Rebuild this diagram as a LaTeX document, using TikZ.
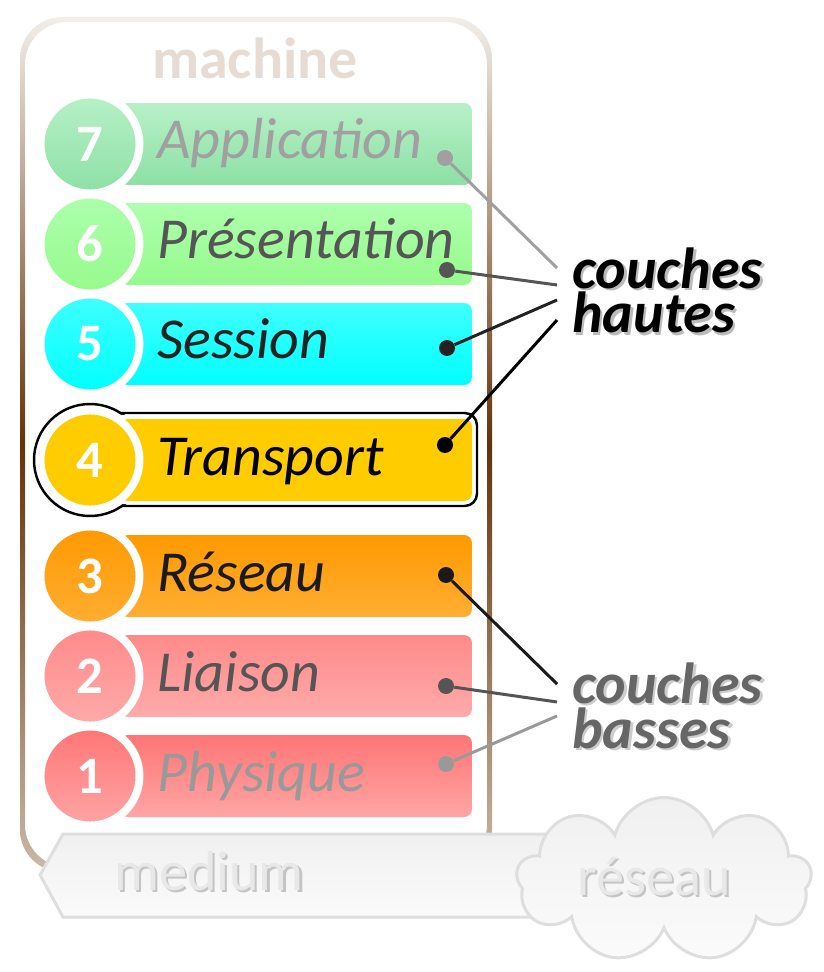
\documentclass[tikz,border=0pt]{standalone}
\usepackage{fontspec}
\setmainfont{Carlito}
\usepackage{tikz}
\usetikzlibrary{shapes.symbols, positioning}
\definecolor{frameT}{HTML}{F2EEEA}
\definecolor{frameM}{HTML}{633308}
\definecolor{frameB}{HTML}{C9B9A8}
\definecolor{machineT}{HTML}{E6DCD3}
\definecolor{appT}{HTML}{B8F0C8}
\definecolor{appB}{HTML}{8DE0A6}
\definecolor{presT}{HTML}{ADFFAD}
\definecolor{presB}{HTML}{96FA8C}
\definecolor{sessT}{HTML}{40FFFF}
\definecolor{sessB}{HTML}{00FFFF}
\definecolor{trans}{HTML}{FFCC00}
\definecolor{resT}{HTML}{FF9900}
\definecolor{resB}{HTML}{FFAE33}
\definecolor{liaiT}{HTML}{FF8A8A}
\definecolor{liaiB}{HTML}{FFAAAA}
\definecolor{physT}{HTML}{FF7575}
\definecolor{physB}{HTML}{FFA5A5}
\definecolor{ink7}{HTML}{A0A0A0}
\definecolor{ink6}{HTML}{555555}
\definecolor{ink5}{HTML}{222222}
\definecolor{ink4}{HTML}{000000}
\definecolor{ink3}{HTML}{1A1A1A}
\definecolor{ink2}{HTML}{555555}
\definecolor{ink1}{HTML}{999999}
\definecolor{shadowA}{HTML}{BBBBBB}
\definecolor{basT}{HTML}{666666}
\definecolor{shadowB}{HTML}{CCCCCC}
\definecolor{netT}{HTML}{E8E8E8}
\definecolor{netS}{HTML}{C4C4C4}
\definecolor{netE}{HTML}{DEDEDE}
\definecolor{netFT}{HTML}{F0F0F0}
\definecolor{netFB}{HTML}{FBFBFB}
\newcommand{\shadowtxt}[3]{\makebox[0pt][l]{\hspace{1.3pt}\raisebox{-1.3pt}{\textcolor{#2}{#3}}}\textcolor{#1}{#3}}

\begin{document}
\begin{tikzpicture}[x=0.02cm, y=-0.02cm,
    layerbar/.style={rectangle, rounded corners=4.5pt, minimum width=7.04cm, minimum height=1.64cm, inner sep=0pt},
    layernum/.style={circle, draw=white, line width=4.5pt, minimum size=1.98cm, inner sep=0pt, font=\fontsize{30pt}{30pt}\selectfont\bfseries, text=white},
    layertext/.style={anchor=base west, inner sep=0pt, font=\fontsize{33pt}{33pt}\selectfont\itshape},
    layerdot/.style={circle, inner sep=0pt, minimum size=0.32cm},
    link/.style={line width=1.7pt},
    grouplabel/.style={anchor=base west, inner sep=0pt, align=left, font=\fontsize{33pt}{25.5pt}\selectfont\bfseries\itshape},
    netlabel/.style={anchor=base, inner sep=0pt, font=\fontsize{32pt}{32pt}\selectfont},
]
    \useasboundingbox (0,0) rectangle (823,972);
    % machine frame
    \shade[top color=frameT, bottom color=frameB, middle color=frameM, even odd rule, rounded corners=24pt]
        (20,17) rectangle (492,872) (25,22) rectangle (487,867);
    \node[netlabel, font=\fontsize{33pt}{33pt}\selectfont\bfseries, text=machineT] (machine) at (255,79) {machine};

    % outline of layer 4
    \draw[line width=1.4pt, fill=white, rounded corners=7pt] (100,413) rectangle (477,506);
    \draw[line width=1.4pt, fill=white] (90,460) circle[radius=1.12cm];
    \fill[white, rounded corners=6pt] (100,415) rectangle (475,504);

    % layers
    \foreach \n/\name/\y/\ct/\cb in {7/Application/144/appT/appB, 6/Présentation/244/presT/presB,
        5/Session/344/sessT/sessB, 4/Transport/460/trans/trans, 3/Réseau/576/resT/resB,
        2/Liaison/676/liaiT/liaiB, 1/Physique/776/physT/physB}{
        \node[layerbar, top color=\ct, bottom color=\cb] (l\n) at (296,\y) {};
        \node[layernum, top color=\ct, bottom color=\cb] (n\n) at (90,\y) {\n};
        \node[layertext, text=ink\n] (t\n) at (157,\y+15) {\name};
    }

    % connectors
    \foreach \n/\dx/\dy/\ey in {7/445/158/268, 6/447/270/285, 5/447/348/300, 4/445/445/320,
        3/446/575/684, 2/446/686/702, 1/446/764/716}{
        \node[layerdot, fill=ink\n] (d\n) at (\dx,\dy) {};
        \coordinate (e\n) at (557,\ey);
        \draw[link, ink\n] (d\n) -- (e\n);
    }

    \node[grouplabel] (hautes) at (572,333) {\shadowtxt{black}{shadowA}{couches}\\\shadowtxt{black}{shadowA}{hautes}};
    \node[grouplabel] (basses) at (572,748) {\shadowtxt{basT}{shadowB}{couches}\\\shadowtxt{basT}{shadowB}{basses}};

    % medium and network
    \shade[draw=netE, line width=1.7pt, top color=netFT, bottom color=netFB]
        (40,875) -- (63,834) -- (640,834) -- (640,917) -- (63,917) -- cycle;
    \node[netlabel] (medium) at (209,890) {\shadowtxt{netT}{netS}{medium}};
    \node[cloud, cloud puffs=9, aspect=1.8, draw=netE, line width=1.7pt, top color=netFT, bottom color=netFB,
        minimum width=5.9cm, minimum height=3.3cm, inner sep=0pt] (net) at (664,880) {};
    \node[netlabel] (reseau) at (654,895) {\shadowtxt{netT}{netS}{réseau}};
\end{tikzpicture}
\end{document}
